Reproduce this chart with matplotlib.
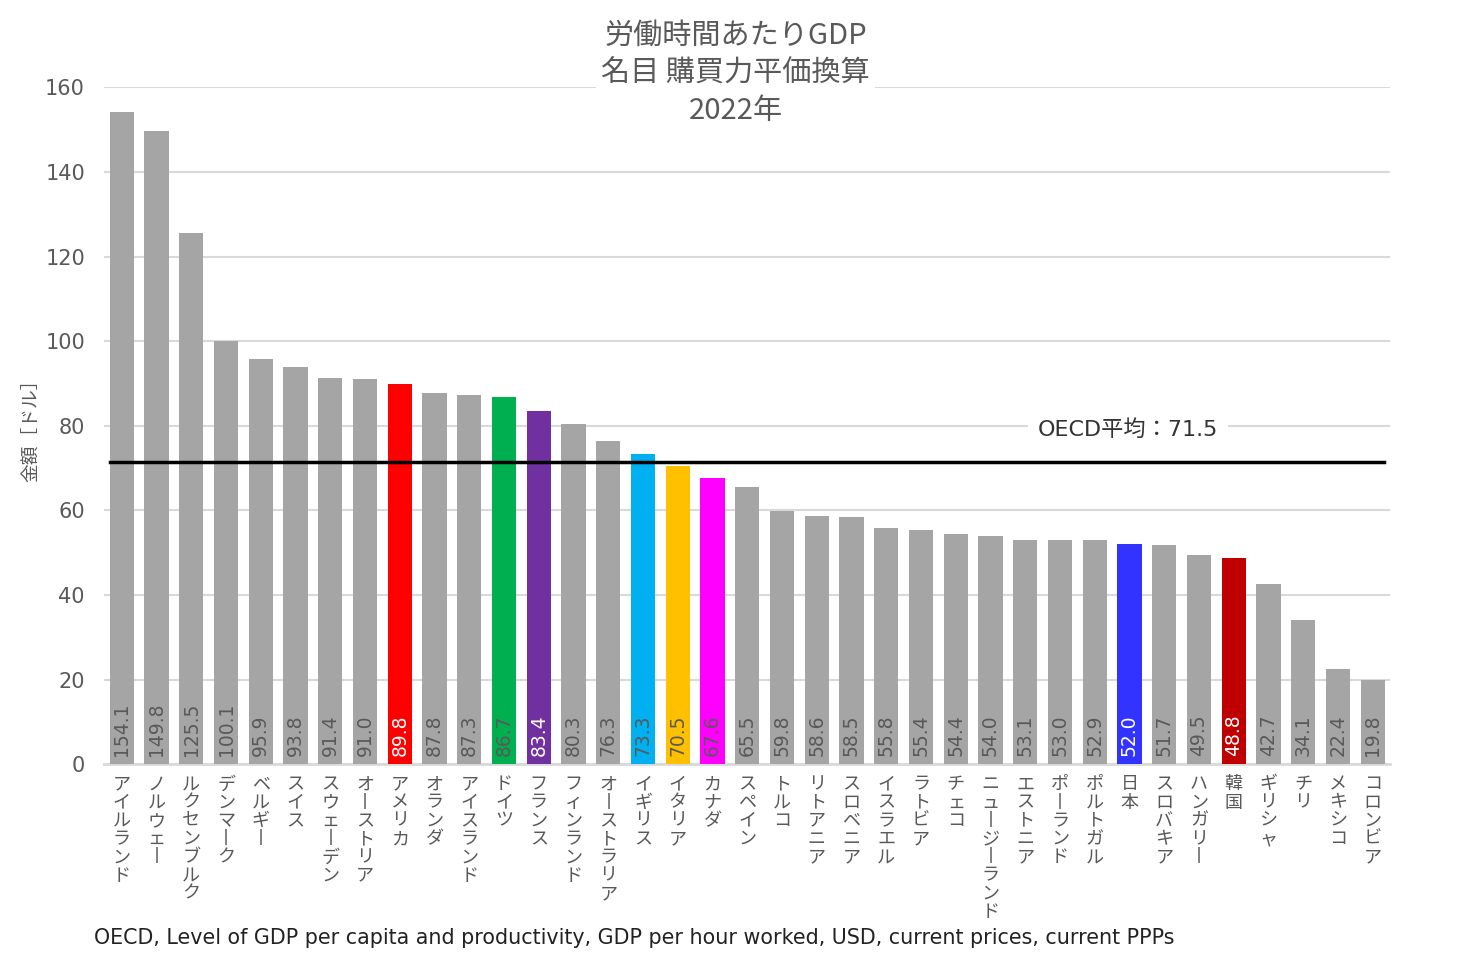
import matplotlib
matplotlib.use("Agg")
import matplotlib.pyplot as plt

plt.rcParams['font.family'] = ['Noto Sans CJK JP', 'DejaVu Sans']
LATIN = ['DejaVu Sans', 'Noto Sans CJK JP']

countries = ["アイルランド", "ノルウェー", "ルクセンブルク", "デンマーク", "ベルギー", "スイス",
             "スウェーデン", "オーストリア", "アメリカ", "オランダ", "アイスランド", "ドイツ",
             "フランス", "フィンランド", "オーストラリア", "イギリス", "イタリア", "カナダ",
             "スペイン", "トルコ", "リトアニア", "スロベニア", "イスラエル", "ラトビア",
             "チェコ", "ニュージーランド", "エストニア", "ポーランド", "ポルトガル", "日本",
             "スロバキア", "ハンガリー", "韓国", "ギリシャ", "チリ", "メキシコ", "コロンビア"]
values = [154.1, 149.8, 125.5, 100.1, 95.9, 93.8, 91.4, 91.0, 89.8, 87.8, 87.3, 86.7,
          83.4, 80.3, 76.3, 73.3, 70.5, 67.6, 65.5, 59.8, 58.6, 58.5, 55.8, 55.4,
          54.4, 54.0, 53.1, 53.0, 52.9, 52.0, 51.7, 49.5, 48.8, 42.7, 34.1, 22.4, 19.8]
oecd_avg = 71.5

GRAY = "#a5a5a5"
highlight = {"アメリカ": "#ff0000", "ドイツ": "#00b050", "フランス": "#7030a0",
             "イギリス": "#00b0f0", "イタリア": "#ffc000", "カナダ": "#ff00ff",
             "日本": "#3333ff", "韓国": "#c00000"}
white_labels = {"アメリカ", "フランス", "日本", "韓国"}

TXT = "#595959"

fig = plt.figure(figsize=(14.71, 9.6), dpi=100)
ax = fig.add_axes([0.071, 0.204, 0.874, 0.705])

x = list(range(len(countries)))
colors = [highlight.get(c, GRAY) for c in countries]
ax.bar(x, values, width=0.7, color=colors, zorder=2)

for xi, c, v in zip(x, countries, values):
    ax.text(xi, 2.0, f"{v:.1f}", rotation=90, ha="center", va="bottom",
            fontsize=13.5, family=LATIN,
            color="white" if c in white_labels else TXT, zorder=3)

ax.set_xlim(-0.5, len(countries) - 0.5)
ax.set_ylim(0, 160)
ax.set_yticks(range(0, 161, 20))
ax.tick_params(axis="y", length=0, labelsize=15, labelcolor=TXT, pad=14)
for lab in ax.get_yticklabels():
    lab.set_family(LATIN)
ax.grid(axis="y", color="#d9d9d9", lw=1.5, zorder=0)
for s in ["top", "right", "left"]:
    ax.spines[s].set_visible(False)
ax.spines["bottom"].set_color("#d9d9d9")
ax.spines["bottom"].set_linewidth(2)
ax.spines["bottom"].set_zorder(1)

# vertical-writing category labels
ax.set_xticks(x)
vert = ["\n".join(c.replace("ー", "丨")) for c in countries]
ax.set_xticklabels(vert, fontsize=13, color=TXT, linespacing=1.02, va="top")
ax.tick_params(axis="x", length=0, pad=8)

ax.set_ylabel("金額［ドル］", fontsize=13.5, color=TXT, labelpad=2)

# OECD average line
ax.axhline(oecd_avg, xmin=0.004, xmax=0.995, color="black", lw=2.5, zorder=4)
ax.text(28.95, 79.0, f"OECD平均：{oecd_avg}", fontsize=16, color="#333333",
        family=LATIN, ha="center", va="center", zorder=4,
        bbox=dict(facecolor="white", edgecolor="none", pad=7))

fig.text(0.5, 0.978, "労働時間あたりGDP\n名目 購買力平価換算\n2022年", ha="center", va="top",
         fontsize=21, color=TXT, linespacing=1.32,
         bbox=dict(facecolor="white", edgecolor="none", pad=4))

fig.text(0.064, 0.023, "OECD, Level of GDP per capita and productivity, GDP per hour worked, USD, current prices, current PPPs",
         fontsize=14.9, family=LATIN, color="#222222", ha="left", va="center")

fig.savefig("out.png", dpi=100)
